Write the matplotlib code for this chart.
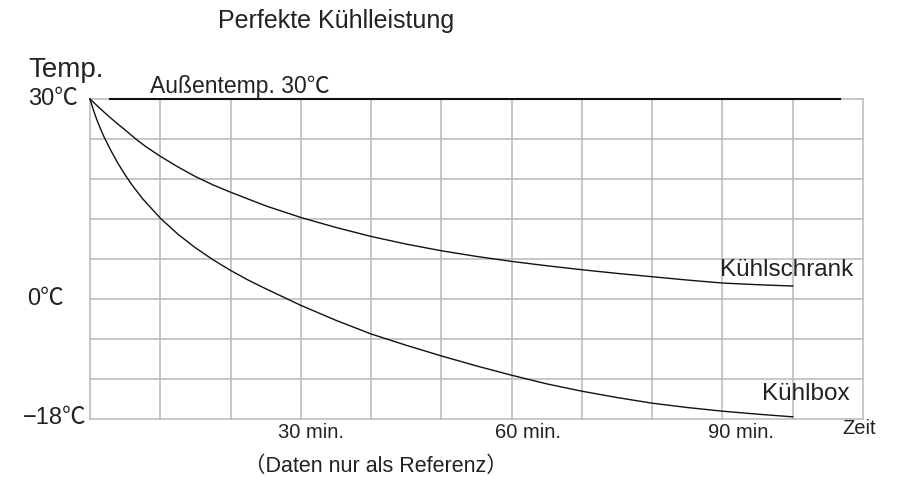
import matplotlib
matplotlib.use("Agg")
import matplotlib.pyplot as plt
from matplotlib.transforms import blended_transform_factory

plt.rcParams['font.family'] = ['Liberation Sans', 'Noto Sans CJK SC', 'DejaVu Sans']

# ---- data (x in grid units: one grid column = 10) ----
fridge_x = [0, 1, 2, 3, 4, 5, 6.5, 8, 10, 12.5, 15, 17.5, 20, 25, 30, 35, 40, 45, 50, 55, 60, 65, 70, 75, 80, 85, 90, 95, 100]
fridge_t = [30, 29.0, 28.03, 27.1, 26.2, 25.35, 24.0, 22.8, 21.4, 19.8, 18.35, 17.1, 16.0, 13.95, 12.2, 10.7, 9.35, 8.2, 7.2, 6.35, 5.6, 4.95, 4.35, 3.8, 3.3, 2.8, 2.35, 2.1, 1.9]
box_x = [0, 0.5, 1, 1.5, 2, 3, 4, 5, 6, 7.5, 10, 12.5, 15, 17.5, 20, 22.5, 25, 27.5, 30, 35, 40, 45, 50, 55, 60, 65, 70, 75, 80, 85, 90, 95, 100]
box_t = [30, 28.3, 26.8, 25.5, 24.3, 22.2, 20.3, 18.6, 17.05, 15.0, 12.1, 9.7, 7.65, 5.85, 4.25, 2.8, 1.5, 0.25, -1.0, -3.25, -5.3, -7.0, -8.6, -10.1, -11.5, -12.8, -13.9, -14.85, -15.7, -16.35, -16.9, -17.35, -17.75]
outside_x = [2.85, 106.7]
outside_t = [30, 30]

time_labels = ["30 min.", "60 min.", "90 min."]
time_label_pos = [31.4, 62.3, 92.6]
temp_labels = ["30℃", "0℃", "−18℃"]
temp_values = [30, 0, -18]

grid_x = list(range(0, 111, 10))
grid_y = [30, 24, 18, 12, 6, 0, -6, -12, -18]

# ---- layout ----
W, H = 899, 492
fig = plt.figure(figsize=(W / 100, H / 100), dpi=100)
ax = fig.add_axes([90 / W, 1 - 418.5 / H, 773 / W, 319.5 / H])
ax.set_xlim(0, 110)
ax.set_ylim(-18, 30)

gcol = '#b8b8bc'
for gx in grid_x:
    ax.axvline(gx, color=gcol, lw=1.1, zorder=1, clip_on=False)
for gy in grid_y:
    ax.axhline(gy, color=gcol, lw=1.1, zorder=1, clip_on=False)
for s in ax.spines.values():
    s.set_visible(False)
ax.set_xticks([])
ax.set_yticks([])

ax.plot(fridge_x, fridge_t, color='#111111', lw=1.0, zorder=3, clip_on=False)
ax.plot(box_x, box_t, color='#111111', lw=1.0, zorder=3, clip_on=False)
ax.plot(outside_x, outside_t, color='#111111', lw=1.5, zorder=3, clip_on=False)

tc = '#222222'
# y labels (right edge in pixels)
ylab_right_px = [78, 64, 86]
bt = blended_transform_factory(fig.transFigure, ax.transData)
for lab, v, rp in zip(temp_labels, temp_values, ylab_right_px):
    fig.text(rp / W, v, lab, transform=bt, ha='right', va='center', fontsize=17, color=tc)

# x labels
bx = blended_transform_factory(ax.transData, fig.transFigure)
for lab, p in zip(time_labels, time_label_pos):
    fig.text(p, 1 - 432 / H, lab, transform=bx, ha='center', va='center', fontsize=14.5, color=tc)

fig.text(859 / W, 1 - 428 / H, "Zeit", ha='center', va='center', fontsize=14.5, color=tc)
fig.text(66 / W, 1 - 70 / H, "Temp.", ha='center', va='center', fontsize=20, color=tc)
fig.text(150 / W, 1 - 93 / H, "Außentemp. 30℃", ha='left', va='baseline', fontsize=16.5, color=tc)
fig.text(336 / W, 1 - 21 / H, "Perfekte Kühlleistung", ha='center', va='center', fontsize=18, color=tc)
fig.text(853 / W, 1 - 270 / H, "Kühlschrank", ha='right', va='center', fontsize=17.5, color=tc)
fig.text(850 / W, 1 - 394 / H, "Kühlbox", ha='right', va='center', fontsize=17.5, color=tc)
fig.text(376 / W, 1 - 466 / H, "（Daten nur als Referenz）", ha='center', va='center', fontsize=15.5, color=tc)

fig.savefig("out.png", dpi=100)
